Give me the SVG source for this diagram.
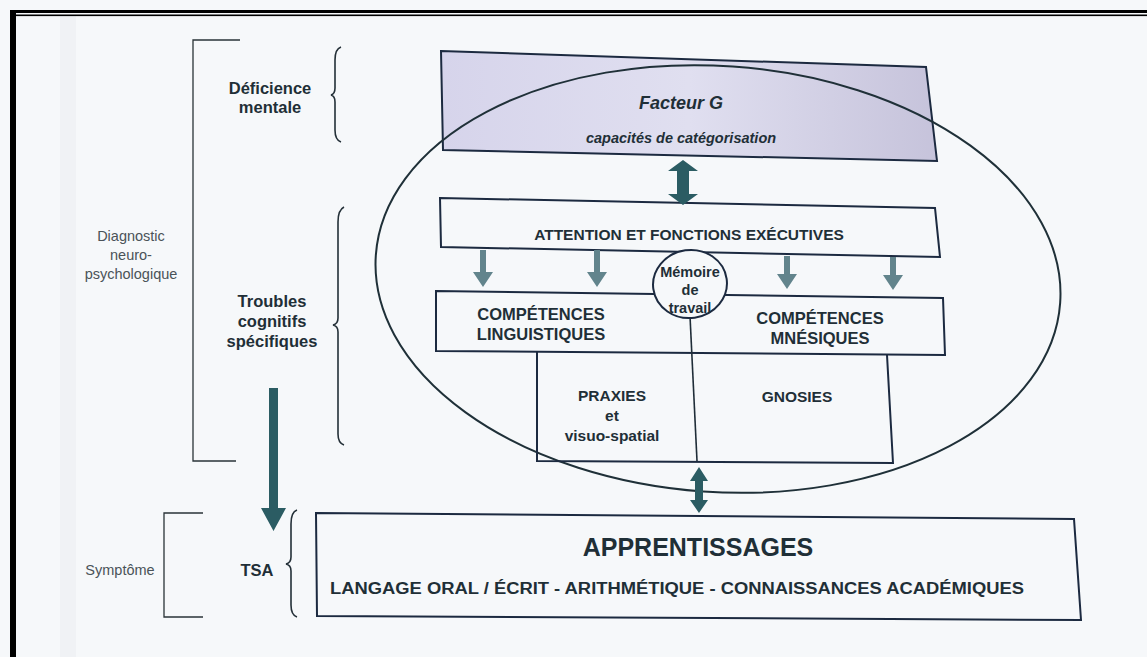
<svg xmlns="http://www.w3.org/2000/svg" width="1147" height="657" viewBox="0 0 1147 657">
<defs>
<style>
.t{font-family:"Liberation Sans",Arial,sans-serif;font-weight:bold;fill:#1f2f37;text-anchor:middle}
.g{font-family:"Liberation Sans",Arial,sans-serif;fill:#4a5358;text-anchor:middle}
.box{fill:none;stroke:#1c2a40;stroke-width:2}
.ln{fill:none;stroke:#1f2d38;stroke-width:1.6}
.br{fill:none;stroke:#243038;stroke-width:1.6}
.bk{fill:none;stroke:#2a3338;stroke-width:1.3}
.big{fill:#2b5c63}
.sm{fill:#62848c}
</style>
<linearGradient id="lav" x1="0" y1="0" x2="1" y2="0">
<stop offset="0" stop-color="#d6d4eb"/>
<stop offset="0.5" stop-color="#e0dff0"/>
<stop offset="1" stop-color="#c6c3db"/>
</linearGradient>
</defs>
<rect width="1147" height="657" fill="#f6f8fa"/>
<rect x="60" y="16" width="16" height="641" fill="#eceef1" opacity="0.6"/>
<rect x="10" y="10" width="1137" height="3" fill="#000"/>
<rect x="10" y="14.5" width="1137" height="1.6" fill="#000"/>
<rect x="10" y="10" width="6" height="647" fill="#000"/>

<g id="diagnostic">
<path class="bk" d="M240,40 H193 V461 H236"/>
<text class="g" font-size="14.5" x="131" y="241">Diagnostic</text>
<text class="g" font-size="14.5" x="131" y="260">neuro-</text>
<text class="g" font-size="14.5" x="131" y="279">psychologique</text>
</g>

<g id="deficience">
<text class="t" font-size="16.5" x="270" y="94">Déficience</text>
<text class="t" font-size="16.5" x="270" y="113">mentale</text>
<path class="br" d="M341,47 Q335,49 335,60 V88 Q335,94 331,95 Q335,96 335,102 V130 Q335,140 341,142"/>
</g>

<g id="troubles">
<text class="t" font-size="16.5" x="272" y="307">Troubles</text>
<text class="t" font-size="16.5" x="272" y="327">cognitifs</text>
<text class="t" font-size="16.5" x="272" y="347">spécifiques</text>
<path class="br" d="M344,207 Q338,210 338,222 V318 Q338,324 333,325 Q338,326 338,332 V434 Q338,443 344,445"/>
</g>

<g id="symptome">
<text class="g" font-size="14.5" x="120" y="575">Symptôme</text>
<path class="bk" d="M203,513 H164 V617 H203"/>
</g>

<g id="tsa">
<text class="t" font-size="16.5" x="257" y="576">TSA</text>
<path class="br" d="M297,510 Q291,512 291,524 V557 Q291,563 286,564 Q291,565 291,571 V605 Q291,615 297,617"/>
</g>

<g id="facteur">
<polygon points="441,51 926,67 937,161 443,150" fill="url(#lav)" stroke="#1c2a40" stroke-width="2"/>
<text class="t" font-size="18" font-style="italic" x="681" y="109">Facteur G</text>
<text class="t" font-size="14.5" font-style="italic" x="681" y="143">capacités de catégorisation</text>
</g>

<g id="cadre">
<ellipse cx="718" cy="279" rx="343" ry="213" transform="rotate(4 718 279)" fill="none" stroke="#1f3038" stroke-width="2"/>
</g>

<g id="attention">
<polygon class="box" points="440,198 935,208 940,257 441,247"/>
<text class="t" font-size="15.5" x="689" y="240">ATTENTION ET FONCTIONS EXÉCUTIVES</text>
</g>

<g id="competences">
<polygon class="box" points="436,291 943,298 945,355 436,351"/>
<text class="t" font-size="16.5" x="541" y="320">COMPÉTENCES</text>
<text class="t" font-size="16.5" x="541" y="340">LINGUISTIQUES</text>
<text class="t" font-size="16.5" x="820" y="324">COMPÉTENCES</text>
<text class="t" font-size="16.5" x="820" y="344">MNÉSIQUES</text>
</g>

<g id="praxies-gnosies">
<path class="box" d="M537,351 V461 L893,463 L887,355"/>
<path class="ln" d="M690,316 L697,461"/>
<text class="t" font-size="15.5" x="612" y="401">PRAXIES</text>
<text class="t" font-size="15.5" x="612" y="421">et</text>
<text class="t" font-size="15.5" x="612" y="441">visuo-spatial</text>
<text class="t" font-size="15.5" x="797" y="402">GNOSIES</text>
</g>

<g id="memoire">
<ellipse cx="690" cy="284" rx="37" ry="34" transform="rotate(-8 690 284)" fill="#f6f8fa" stroke="#1c2a40" stroke-width="2"/>
<text class="t" font-size="14.5" x="690" y="277">Mémoire</text>
<text class="t" font-size="14.5" x="690" y="295">de</text>
<text class="t" font-size="14.5" x="690" y="313">travail</text>
</g>

<g id="apprentissages">
<polygon class="box" points="316,513 1074,519 1081,620 317,616"/>
<text class="t" font-size="25" x="698" y="556" fill="#2a3d45">APPRENTISSAGES</text>
<text class="t" font-size="16" x="677" y="594" textLength="694" lengthAdjust="spacingAndGlyphs">LANGAGE ORAL / ÉCRIT - ARITHMÉTIQUE - CONNAISSANCES ACADÉMIQUES</text>
</g>

<g id="connecteurs">
<polygon class="big" points="683,160 698,171 689,171 689,194 698,194 683,205 668,194 677,194 677,171 668,171"/>
<polygon class="big" points="699,467 708,481 703,481 703,500 708,500 699,513 690,500 695,500 695,481 690,481" fill="#3a6f79"/>
<polygon class="big" points="269,388 278,388 278,508 286,508 273.5,531 261,508 269,508"/>
<polygon class="sm" points="480,250 486,250 486,272 493,272 483,287 473,272 480,272"/>
<polygon class="sm" points="594,250 600,250 600,272 607,272 597,287 587,272 594,272"/>
<polygon class="sm" points="784,256 790,256 790,274 797,274 787,289 777,274 784,274"/>
<polygon class="sm" points="890,257 896,257 896,275 903,275 893,290 883,275 890,275"/>
</g>
</svg>
